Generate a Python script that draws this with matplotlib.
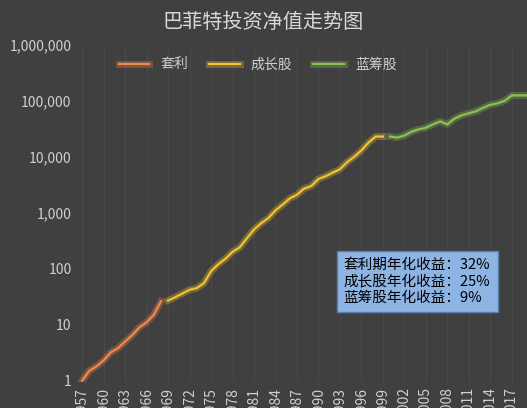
import matplotlib.pyplot as plt
import matplotlib.ticker as mticker
import matplotlib.patheffects as pe

plt.rcParams['font.family'] = ['Noto Sans CJK SC', 'DejaVu Sans']

arb_years = list(range(1957, 1969))
arb_vals = [1, 1.5, 1.8, 2.3, 3.2, 3.8, 5, 6.5, 9, 11, 15, 26]
grow_years = list(range(1969, 2000))
grow_vals = [27, 31, 36, 42, 45, 55, 90, 120, 150, 200, 240, 350, 500, 650, 800,
             1100, 1400, 1800, 2100, 2700, 3000, 4000, 4500, 5200, 6000, 8000,
             10000, 13000, 18000, 23000, 23000]
blue_years = list(range(2000, 2020))
blue_vals = [23000, 22000, 24000, 28000, 31000, 33000, 38000, 43000, 38000, 48000,
             55000, 60000, 65000, 75000, 85000, 90000, 100000, 125000, 125000, 125000]
tick_years = list(range(1957, 2018, 3))
note = "套利期年化收益：32%\n成长股年化收益：25%\n蓝筹股年化收益：9%"

bg = '#404040'
fig = plt.figure(figsize=(5.27, 4.08), dpi=100, facecolor=bg)
ax = fig.add_axes([0.145, 0.064, 0.86, 0.826], facecolor=bg)

for yrs, vals, col, lab in [(arb_years, arb_vals, '#F4884A', '套利'),
                            (grow_years, grow_vals, '#F2C230', '成长股'),
                            (blue_years, blue_vals, '#8CC152', '蓝筹股')]:
    ax.plot(yrs, vals, color=col, lw=1.6, label=lab,
            path_effects=[pe.Stroke(linewidth=5, foreground=col, alpha=0.3), pe.Normal()])

ax.set_yscale('log')
ax.set_ylim(0.95, 1e6)
ax.set_xlim(1956.2, 2019.5)
ax.yaxis.set_major_formatter(mticker.FuncFormatter(lambda v, p: f'{int(round(v)):,}'))
ax.yaxis.set_minor_locator(mticker.NullLocator())
ax.set_xticks(tick_years)
ax.set_xticklabels([str(y) for y in tick_years], rotation=90)
ax.tick_params(colors='#d0d0d0', labelsize=10, length=0)
ax.grid(axis='x', color='#4a4a4a', lw=0.8)
for s in ax.spines.values():
    s.set_visible(False)

leg = ax.legend(loc='upper center', bbox_to_anchor=(0.4, 1.0), ncol=3, frameon=False,
                fontsize=10, labelcolor='#d0d0d0', handlelength=2.2, columnspacing=1.5)

ax.text(0.59, 0.23, note, transform=ax.transAxes, fontsize=10.5, color='black',
        linespacing=1.2, va='bottom',
        bbox=dict(boxstyle='square,pad=0.5', fc='#8EB4E3', ec='#5a7fb0'))

fig.text(0.5, 0.945, '巴菲特投资净值走势图', ha='center', va='center',
         fontsize=14.5, color='#d8d8d8', fontweight='medium')

fig.savefig('out.png', dpi=100, facecolor=bg)
